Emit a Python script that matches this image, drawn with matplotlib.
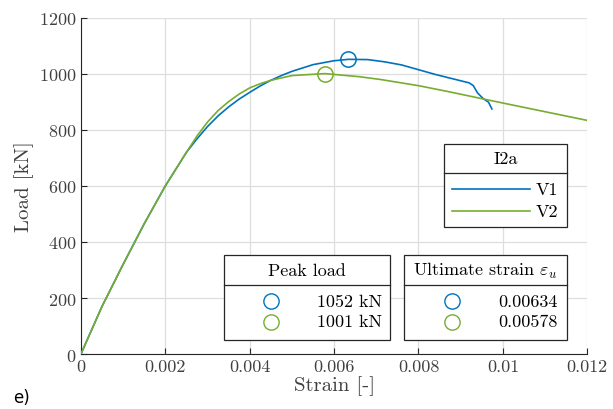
import matplotlib
matplotlib.use('Agg')
from matplotlib import rcParams
rcParams['font.family'] = 'serif'
rcParams['font.serif'] = ['cmr10']
rcParams['mathtext.fontset'] = 'cm'
rcParams['axes.formatter.use_mathtext'] = True
import matplotlib.pyplot as plt
from matplotlib.patches import Rectangle
from matplotlib.lines import Line2D

# V1 test
strain_v1 = [0, 0.0005, 0.001, 0.0015, 0.002, 0.0025, 0.00275, 0.003, 0.00325, 0.0035,
             0.00375, 0.004, 0.00425, 0.0045, 0.00475, 0.005, 0.0055, 0.006, 0.00634,
             0.0068, 0.0072, 0.0076, 0.008, 0.0084, 0.0088, 0.0092, 0.0093, 0.0094,
             0.00954, 0.00966, 0.00974]
load_v1 = [0, 170, 320, 465, 600, 720, 768, 812, 850, 882,
           910, 934, 957, 977, 994, 1009, 1033, 1047, 1052,
           1051, 1043, 1032, 1015, 998, 983, 968, 958, 932,
           911, 899, 875]

# V2 test
strain_v2 = [0, 0.0005, 0.001, 0.0015, 0.002, 0.0025, 0.00275, 0.003, 0.00325, 0.0035,
             0.00375, 0.004, 0.00425, 0.0045, 0.005, 0.00578, 0.0066, 0.0071, 0.008,
             0.0087, 0.0093, 0.01, 0.011, 0.012]
load_v2 = [0, 170, 320, 465, 600, 720, 778, 828, 869, 901,
           928, 950, 965, 977, 994, 1001, 990, 980, 958,
           937, 918, 896, 865, 834]

# peak load / ultimate strain markers
peak_strain = [0.00634, 0.00578]
peak_load = [1052, 1001]
peak_labels = ['1052 kN', '1001 kN']
ult_labels = ['0.00634', '0.00578']
names = ['V1', 'V2']
colors = ['#0072BD', '#77AC30']

xticks = [0, 0.002, 0.004, 0.006, 0.008, 0.01, 0.012]
xtick_labels = ['0', '0.002', '0.004', '0.006', '0.008', '0.01', '0.012']
yticks = [0, 200, 400, 600, 800, 1000, 1200]

fig = plt.figure(figsize=(6.13, 4.10), dpi=100)
fig.subplots_adjust(left=0.132, right=0.958, top=0.954, bottom=0.134)
ax = fig.add_subplot(111)

ax.plot(strain_v1, load_v1, color=colors[0], lw=1.2, zorder=3)
ax.plot(strain_v2, load_v2, color=colors[1], lw=1.2, zorder=3)
for i in range(2):
    ax.plot(peak_strain[i], peak_load[i], ls='', marker='o', ms=11, mfc='none',
            mec=colors[i], mew=1.1, zorder=4)

ax.set_xlim(0, 0.012)
ax.set_ylim(0, 1200)
ax.set_xticks(xticks)
ax.set_xticklabels(xtick_labels)
ax.set_yticks(yticks)
ax.grid(True, color='#dedede', lw=0.9)
ax.set_axisbelow(True)
for s in ['top', 'right']:
    ax.spines[s].set_visible(False)
for s in ['left', 'bottom']:
    ax.spines[s].set_color('#262626')
ax.tick_params(direction='in', length=4, colors='#262626', labelsize=13, labelcolor='#404040')
ax.set_xlabel('Strain [-]', fontsize=15, color='#404040', labelpad=1)
ax.set_ylabel('Load [kN]', fontsize=15, color='#404040', labelpad=3)

# legend boxes drawn in axes coordinates
def box(x0, x1, y0, y1, ysep, title):
    ax.add_patch(Rectangle((x0, y0), x1 - x0, y1 - y0, transform=ax.transAxes,
                           fc='white', ec='#262626', lw=0.9, zorder=10))
    ax.add_line(Line2D([x0, x1], [ysep, ysep], transform=ax.transAxes,
                       color='#262626', lw=0.9, zorder=11))
    ax.text((x0 + x1) / 2, (ysep + y1) / 2, title, transform=ax.transAxes,
            ha='center', va='center', fontsize=13, zorder=12)

# I2a
box(0.717, 0.960, 0.378, 0.625, 0.539, 'I2a')
row_y = [0.491, 0.425]
for i in range(2):
    ax.add_line(Line2D([0.733, 0.887], [row_y[i], row_y[i]], transform=ax.transAxes,
                       color=colors[i], lw=1.2, zorder=12))
    ax.text(0.898, row_y[i], names[i], transform=ax.transAxes, ha='left',
            va='center', fontsize=13, zorder=12)

# Peak load and ultimate strain
box(0.282, 0.611, 0.042, 0.295, 0.206, 'Peak load')
box(0.638, 0.960, 0.042, 0.295, 0.206, r'Ultimate strain $\varepsilon_u$')
row_y = [0.158, 0.096]
for i in range(2):
    ax.plot(0.375, row_y[i], transform=ax.transAxes, ls='', marker='o', ms=11,
            mfc='none', mec=colors[i], mew=1.0, zorder=12, clip_on=False)
    ax.text(0.594, row_y[i], peak_labels[i], transform=ax.transAxes, ha='right',
            va='center', fontsize=13, zorder=12)
    ax.plot(0.733, row_y[i], transform=ax.transAxes, ls='', marker='o', ms=11,
            mfc='none', mec=colors[i], mew=1.0, zorder=12, clip_on=False)
    ax.text(0.941, row_y[i], ult_labels[i], transform=ax.transAxes, ha='right',
            va='center', fontsize=13, zorder=12)

fig.text(0.022, 0.008, 'e)', fontsize=12, family='DejaVu Sans', ha='left', va='bottom')

plt.savefig('out.png', dpi=100)
